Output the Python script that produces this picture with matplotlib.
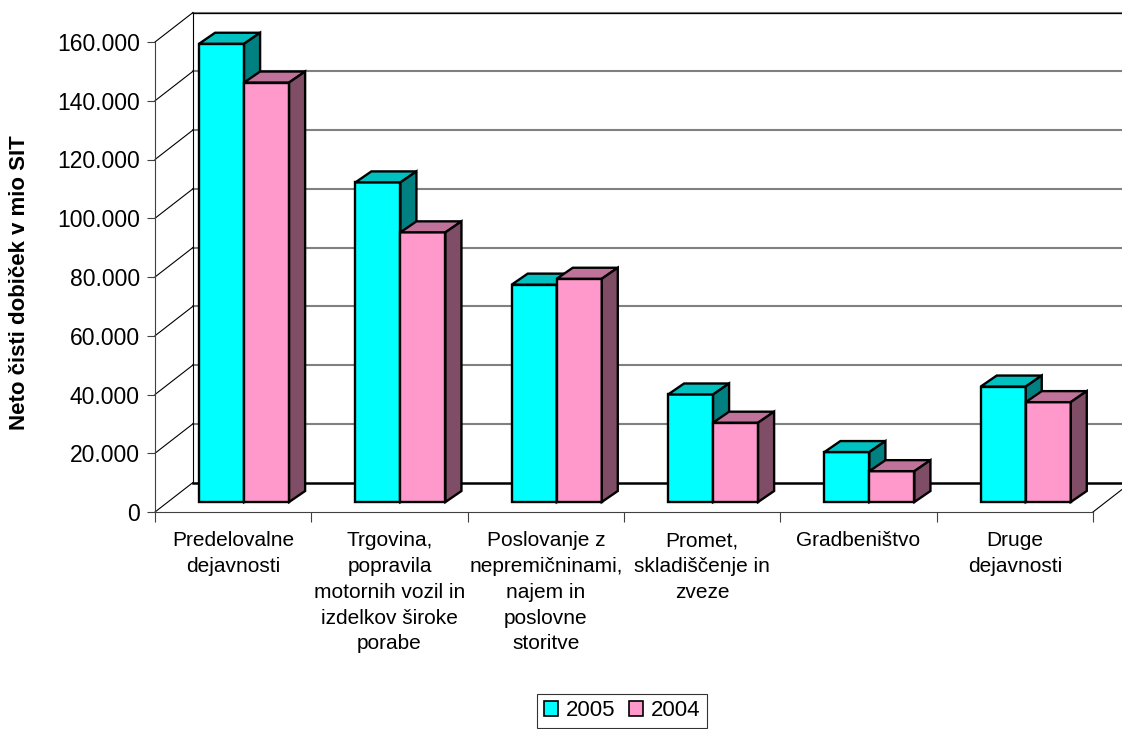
import numpy as np
import matplotlib
matplotlib.use('Agg')
from matplotlib import pyplot as plt
from matplotlib.patches import Polygon, Patch

plt.rcParams['font.family'] = ['Liberation Sans', 'DejaVu Sans']

categories = ['Predelovalne\ndejavnosti',
              'Trgovina,\npopravila\nmotornih vozil in\nizdelkov široke\nporabe',
              'Poslovanje z\nnepremičninami,\nnajem in\nposlovne\nstoritve',
              'Promet,\nskladiščenje in\nzveze',
              'Gradbeništvo',
              'Druge\ndejavnosti']
series_names = ['2005', '2004']
values_2005 = [156000, 108800, 74000, 36600, 17000, 39300]
values_2004 = [142800, 91800, 76000, 27000, 10500, 34000]
y_ticks = [0, 20000, 40000, 60000, 80000, 100000, 120000, 140000, 160000]

front_colors = ['#00FFFF', '#FF99CC']
top_colors = ['#00C0C0', '#C0739A']
side_colors = ['#008080', '#804D66']

# pixel geometry of the figure
W, H = 1122, 729
px_x = 156.33              # pixels per category
px_y = 470.0 / 160000      # pixels per value unit
DX, DY = 38 / px_x, 29.5 / px_y      # wall depth
OX, OY = 12.5 / px_x, 10 / px_y      # bar front face offset
BX, BY = 16 / px_x, 11 / px_y        # bar depth
bw = 0.288

fig = plt.figure(figsize=(W / 100, H / 100), dpi=100)
ax = fig.add_axes([155 / W, (H - 512) / H, (W - 155) / W, 512 / H])
ax.set_xlim(0, (W - 155) / px_x)
ax.set_ylim(0, 512 / px_y)

# walls
for v in y_ticks:
    if v == 0:
        continue
    ax.plot([DX, 7], [v + DY, v + DY], color='#808080', lw=1.5, zorder=1)
    ax.plot([0, DX], [v, v + DY], color='black', lw=0.8, zorder=1, clip_on=False)
ax.plot([DX, 7], [160000 + DY, 160000 + DY], color='black', lw=0.9, zorder=1)
ax.plot([DX, DX], [DY, 160000 + DY], color='black', lw=0.8, zorder=1)
ax.plot([DX, 6 + DX], [DY, DY], color='black', lw=1.8, zorder=1)
ax.plot([0, DX], [0, DY], color='black', lw=0.8, zorder=1, clip_on=False)
ax.plot([6, 6 + DX], [0, DY], color='black', lw=0.8, zorder=1)

x = np.arange(len(categories))
start = 0.49 - bw
for s, vals in enumerate([values_2005, values_2004]):
    xs = x + start + s * bw + OX
    ax.bar(xs, vals, width=bw, bottom=OY, align='edge', color=front_colors[s],
           edgecolor='black', linewidth=1.7, zorder=3 + s)
    for xi, v in zip(xs, vals):
        top = [(xi, OY + v), (xi + bw, OY + v), (xi + bw + BX, OY + v + BY), (xi + BX, OY + v + BY)]
        side = [(xi + bw, OY), (xi + bw, OY + v), (xi + bw + BX, OY + v + BY), (xi + bw + BX, OY + BY)]
        ax.add_patch(Polygon(top, closed=True, facecolor=top_colors[s], edgecolor='black',
                             linewidth=1.7, joinstyle='miter', zorder=3 + s))
        ax.add_patch(Polygon(side, closed=True, facecolor=side_colors[s], edgecolor='black',
                             linewidth=1.7, joinstyle='miter', zorder=3 + s))

for sp in ['top', 'right']:
    ax.spines[sp].set_visible(False)
ax.spines['left'].set_bounds(0, 160000)
ax.spines['bottom'].set_bounds(0, 6)
ax.spines['left'].set_color('#404040')
ax.spines['bottom'].set_color('#404040')

ax.set_yticks(y_ticks)
ax.set_yticklabels([f'{v:,}'.replace(',', '.') for v in y_ticks], fontsize=16.5)
ax.tick_params(axis='y', direction='out', length=6, width=0.8, color='#404040', pad=5)

ax.set_xticks(np.arange(0, 7))
ax.set_xticklabels([])
ax.tick_params(axis='x', which='major', direction='out', length=7, width=0.8, color='#404040')
ax.set_xticks(x + 0.5, minor=True)
ax.set_xticklabels(categories, minor=True, fontsize=15, linespacing=1.45)
ax.tick_params(axis='x', which='minor', length=0, pad=14)

fig.text(20 / W, (H - 283) / H, 'Neto čisti dobiček v mio SIT', rotation=90,
         ha='center', va='center', fontsize=16, fontweight='bold')

handles = [Patch(facecolor=front_colors[i], edgecolor='black', linewidth=1.2) for i in range(2)]
leg = fig.legend(handles, series_names, loc='center', bbox_to_anchor=(622 / W, (H - 711) / H),
                 ncol=2, fontsize=16, frameon=True, fancybox=False, handlelength=0.65,
                 handleheight=0.65, handletextpad=0.35, columnspacing=0.6, borderpad=0.3,
                 borderaxespad=0)
leg.get_frame().set_edgecolor('black')
leg.get_frame().set_linewidth(0.8)

fig.savefig('out.png', dpi=100)
